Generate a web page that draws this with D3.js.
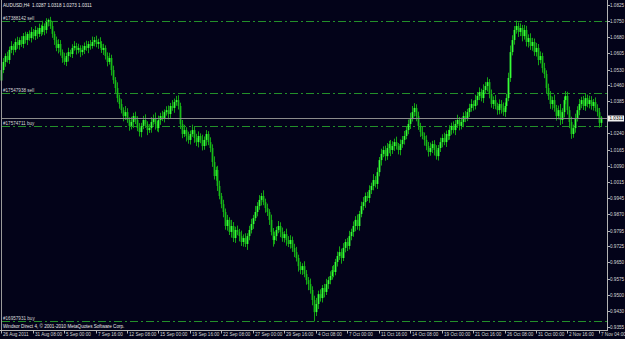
<!DOCTYPE html>
<html><head><meta charset="utf-8">
<script src="https://cdn.jsdelivr.net/npm/d3@7"></script>
<style>
html,body{margin:0;padding:0;background:#030319;}
svg{display:block;font-family:"Liberation Sans",Arial,sans-serif;}
</style></head><body>
<script>
// AUDUSD H4 closes, one per bar (26 Aug 16:00 .. 7 Nov 08:00)
var closes = [
 1.0528,1.0565,1.0592,1.0574,1.0620,1.0638,1.0620,1.0656,1.0642,1.0665,
 1.0647,1.0683,1.0665,1.0693,1.0674,1.0702,1.0683,1.0711,1.0693,1.0720,
 1.0702,1.0729,1.0711,1.0747,1.0757,1.0729,1.0693,1.0665,1.0629,1.0647,
 1.0610,1.0583,1.0565,1.0592,1.0610,1.0601,1.0629,1.0638,1.0620,1.0629,
 1.0610,1.0620,1.0638,1.0629,1.0647,1.0638,1.0656,1.0665,1.0647,1.0656,
 1.0647,1.0620,1.0629,1.0592,1.0565,1.0583,1.0528,1.0482,1.0446,1.0400,
 1.0373,1.0345,1.0318,1.0336,1.0300,1.0273,1.0291,1.0318,1.0300,1.0263,
 1.0245,1.0273,1.0300,1.0282,1.0254,1.0263,1.0291,1.0309,1.0282,1.0263,
 1.0300,1.0318,1.0309,1.0336,1.0345,1.0327,1.0364,1.0355,1.0382,1.0391,
 1.0364,1.0282,1.0236,1.0254,1.0227,1.0209,1.0236,1.0254,1.0218,1.0199,
 1.0227,1.0209,1.0181,1.0209,1.0236,1.0199,1.0172,1.0108,1.0044,1.0072,
 0.9999,0.9953,0.9916,0.9880,0.9816,0.9844,0.9789,0.9816,0.9761,0.9798,
 0.9789,0.9770,0.9743,0.9761,0.9734,0.9770,0.9798,0.9825,0.9852,0.9880,
 0.9907,0.9935,0.9953,0.9925,0.9898,0.9880,0.9844,0.9789,0.9752,0.9770,
 0.9798,0.9816,0.9789,0.9761,0.9779,0.9752,0.9734,0.9752,0.9716,0.9697,
 0.9670,0.9633,0.9615,0.9633,0.9597,0.9569,0.9551,0.9524,0.9478,0.9423,
 0.9460,0.9505,0.9487,0.9533,0.9515,0.9551,0.9569,0.9588,0.9615,0.9606,
 0.9652,0.9679,0.9697,0.9670,0.9716,0.9743,0.9725,0.9770,0.9789,0.9816,
 0.9844,0.9816,0.9871,0.9907,0.9925,0.9953,0.9944,0.9980,0.9999,1.0026,
 1.0008,1.0062,1.0117,1.0145,1.0163,1.0135,1.0172,1.0190,1.0163,1.0181,
 1.0199,1.0181,1.0163,1.0190,1.0209,1.0227,1.0254,1.0282,1.0309,1.0336,
 1.0355,1.0318,1.0273,1.0245,1.0227,1.0209,1.0181,1.0154,1.0172,1.0190,
 1.0163,1.0135,1.0172,1.0199,1.0218,1.0199,1.0236,1.0227,1.0254,1.0273,
 1.0254,1.0282,1.0300,1.0273,1.0291,1.0318,1.0309,1.0336,1.0355,1.0373,
 1.0364,1.0391,1.0410,1.0428,1.0400,1.0437,1.0455,1.0473,1.0419,1.0373,
 1.0391,1.0364,1.0345,1.0373,1.0355,1.0336,1.0364,1.0400,1.0492,1.0610,
 1.0665,1.0711,1.0729,1.0702,1.0720,1.0683,1.0711,1.0656,1.0674,1.0638,
 1.0656,1.0610,1.0629,1.0574,1.0592,1.0537,1.0510,1.0446,1.0410,1.0373,
 1.0391,1.0355,1.0318,1.0345,1.0300,1.0336,1.0391,1.0410,1.0345,1.0291,
 1.0236,1.0263,1.0309,1.0345,1.0373,1.0391,1.0364,1.0400,1.0373,1.0391,
 1.0364,1.0382,1.0355,1.0336,1.0287,1.0311
];
var firstOpen = 1.0480;
// wick lengths beyond the body, in pips
var hiWick = [
 25,18,12,20,15,22,10,16,24,12, 18,14,20,9,16,22,13,18,11,20, 15,24,12,18,6,14,20,12,16,22,
 18,12,24,15,20,11,17,22,14,19, 12,21,16,24,13,18,25,14,20,15, 22,13,19,12,17,24,15,20,14,26,
 16,22,13,28,18,12,24,15,20,17, 23,14,19,26,12,18,22,16,25,13, 20,15,24,12,18,21,14,27,16,19,
 22,15,18,24,13,20,16,25,14,19, 21,12,24,16,18,13,22,17,26,15, 19,24,14,20,16,23,12,28,18,15,
 20,14,25,17,22,13,19,24,15,28, 18,22,14,26,16,20,13,24,18,21, 15,23,17,20,14,25,18,22,16,19,
 24,15,20,13,22,18,14,25,17,20, 28,16,22,14,19,24,15,21,18,23, 14,20,26,16,22,13,19,24,15,21,
 17,25,14,20,23,16,19,22,15,27, 18,21,14,24,17,20,23,15,19,22, 16,25,14,21,18,23,15,20,24,28,
 22,17,20,14,24,16,21,19,25,15, 18,22,14,20,17,24,16,19,22,15, 21,18,24,14,20,17,23,15,19,22,
 16,24,18,21,15,26,19,22,14,20, 17,23,15,21,18,25,16,20,24,30, 22,18,25,16,21,14,23,19,17,22,
 19,16,23,18,21,15,24,17,20,22, 16,25,14,21,28,18,15,22,19,17, 24,16,20,18,23,15,19,22,16,20,
 18,14,21,17,19,7
];
var loWick = [
 20,14,22,12,18,15,24,11,17,21, 13,19,16,23,12,20,15,18,22,14, 19,12,24,16,20,13,18,22,15,25,
 16,22,13,19,25,14,18,12,21,16, 23,15,19,13,24,17,12,20,15,22, 18,14,23,16,20,12,25,17,22,19,
 21,15,24,18,13,22,16,27,19,14, 20,24,15,18,23,13,21,17,26,15, 19,22,14,20,16,24,18,13,22,17,
 16,23,19,14,25,17,21,13,22,18, 24,15,20,17,26,14,19,22,16,21, 23,15,19,24,17,21,14,26,18,22,
 15,24,18,21,14,27,19,16,22,13, 20,17,25,14,21,18,23,16,30,19, 22,15,24,17,20,26,14,21,18,23,
 16,25,19,22,15,21,28,17,24,43, 18,23,16,20,25,14,22,19,17,24, 15,21,18,26,14,20,23,16,19,22,
 24,17,21,15,19,26,14,22,18,20, 16,23,19,25,15,21,17,24,28,18, 22,16,20,24,17,21,15,19,23,16,
 20,24,18,22,15,26,19,21,17,23, 25,16,20,18,24,14,22,19,17,21, 15,23,18,20,16,24,19,14,22,17,
 21,16,24,19,15,22,18,25,20,17, 23,15,21,19,26,17,22,16,14,18, 15,21,17,23,19,24,16,20,25,18,
 22,17,20,24,16,21,19,25,18,22, 26,17,21,15,23,18,24,19,20,28, 22,17,21,16,23,19,18,22,15,20,
 17,21,16,19,22,14
];
// time axis labels, one every 16 bars
var timeLabels = ["26 Aug 2011","31 Aug 08:00","5 Sep 00:00","7 Sep 16:00","12 Sep 08:00",
 "15 Sep 00:00","19 Sep 16:00","22 Sep 08:00","27 Sep 00:00","29 Sep 16:00","4 Oct 08:00",
 "7 Oct 00:00","11 Oct 16:00","14 Oct 08:00","19 Oct 00:00","21 Oct 16:00","26 Oct 08:00",
 "31 Oct 00:00","2 Nov 16:00","7 Nov 04:00"];
var priceTicks = [1.0825,1.0750,1.0680,1.0605,1.0530,1.0460,1.0385,1.0240,1.0165,1.0090,
 1.0015,0.9945,0.9870,0.9795,0.9725,0.9650,0.9575,0.9500,0.9430,0.9355];
var orderNames = ["#17388142 sell","#17547938 sell","#17574711 buy","#16957931 buy"];
var orderPrices = [1.0752,1.0422,1.0272,0.9384];
var lastBar = {open:1.0287, high:1.0318, low:1.0273, close:1.0311};

var w = 625, h = 339;
var plotRight = 607, plotBottom = 330.5;

var svg = d3.select("body").append("svg")
    .attr("width", w)
    .attr("height", h);

svg.append("rect").attr("width", w).attr("height", h).attr("fill", "#030319");

var x = d3.scaleLinear().domain([0, 304]).range([1.2, 598.9]);
var y = d3.scaleLinear().domain([0.9355, 1.0825]).range([327, 5]);

var bars = closes.map(function(c, i) {
    var o = i == 0 ? firstOpen : closes[i-1];
    return {
        i: i, open: o, close: c,
        high: Math.max(o, c) + hiWick[i]/10000,
        low: Math.min(o, c) - loWick[i]/10000
    };
});

// order lines
var orders = svg.append("g");
orderNames.forEach(function(name, k) {
    var yy = Math.round(y(orderPrices[k])) + 0.5;
    orders.append("line")
        .attr("x1", 2).attr("x2", plotRight)
        .attr("y1", yy).attr("y2", yy)
        .attr("stroke", "#23902a")
        .attr("stroke-dasharray", "8,3,2,3");
    orders.append("text")
        .attr("x", 3).attr("y", yy - 1.5)
        .attr("fill", "#d8d8d8")
        .attr("font-size", 4.6)
        .text(name);
});

// candles: thin wick + wider body
var candles = svg.append("g").selectAll("g")
    .data(bars)
    .enter().append("g");

candles.append("rect")
    .attr("x", function(d) { return Math.round(x(d.i)); })
    .attr("y", function(d) { return y(d.high); })
    .attr("width", 1)
    .attr("height", function(d) { return y(d.low) - y(d.high); })
    .attr("fill", "#14a414");

candles.append("rect")
    .attr("x", function(d) { return Math.round(x(d.i)) - 0.4; })
    .attr("y", function(d) { return y(Math.max(d.open, d.close)); })
    .attr("width", 1.8)
    .attr("height", function(d) { return Math.max(1, Math.abs(y(d.open) - y(d.close))); })
    .attr("fill", function(d) { return d.close >= d.open ? "#36ff36" : "#18bc18"; });

// current price line
var yl = Math.round(y(lastBar.close)) + 0.5;
svg.append("line")
    .attr("x1", 2).attr("x2", plotRight)
    .attr("y1", yl).attr("y2", yl)
    .attr("stroke", "#8c8c8c");

// frame
svg.append("line").attr("x1", 1.5).attr("x2", 1.5).attr("y1", 0).attr("y2", plotBottom)
    .attr("stroke", "#9a9a9a");
svg.append("line").attr("x1", plotRight + 0.5).attr("x2", plotRight + 0.5).attr("y1", 0).attr("y2", plotBottom)
    .attr("stroke", "#b4b4b4");
svg.append("line").attr("x1", 0).attr("x2", plotRight + 1).attr("y1", plotBottom).attr("y2", plotBottom)
    .attr("stroke", "#b4b4b4");

// price axis
var pAxis = svg.append("g");
priceTicks.forEach(function(p) {
    var yy = Math.round(y(p)) + 0.5;
    pAxis.append("line").attr("x1", plotRight + 1).attr("x2", plotRight + 3)
        .attr("y1", yy).attr("y2", yy).attr("stroke", "#b4b4b4");
    pAxis.append("text")
        .attr("x", 610).attr("y", yy + 1.6)
        .attr("fill", "#d8d8d8")
        .attr("font-size", 4.6)
        .text(p.toFixed(4));
});
svg.append("rect")
    .attr("x", 608).attr("y", yl - 3).attr("width", 16).attr("height", 6)
    .attr("fill", "#f0f0f0");
svg.append("text")
    .attr("x", 609.5).attr("y", yl + 1.6)
    .attr("fill", "#000000")
    .attr("font-size", 4.6)
    .text(lastBar.close.toFixed(4));

// time axis
var tAxis = svg.append("g");
timeLabels.forEach(function(t, k) {
    var xx = Math.round(x(k * 16)) + 0.5;
    tAxis.append("line").attr("x1", xx).attr("x2", xx)
        .attr("y1", plotBottom).attr("y2", plotBottom + 3).attr("stroke", "#b4b4b4");
    tAxis.append("text")
        .attr("x", xx + 1.5).attr("y", 336)
        .attr("fill", "#d8d8d8")
        .attr("font-size", 4.6)
        .text(t);
});

// titles
svg.append("text").attr("x", 3).attr("y", 6.5)
    .attr("fill", "#e8e8e8").attr("font-size", 4.6)
    .attr("xml:space", "preserve")
    .text("AUDUSD,H4  " + [lastBar.open, lastBar.high, lastBar.low, lastBar.close].map(function(v) { return v.toFixed(4); }).join(" "));
svg.append("text").attr("x", 3).attr("y", 327.5)
    .attr("fill", "#e8e8e8").attr("font-size", 4.6)
    .text("Windsor Direct 4, \u00a9 2001-2010 MetaQuotes Software Corp.");
</script>
</body></html>
